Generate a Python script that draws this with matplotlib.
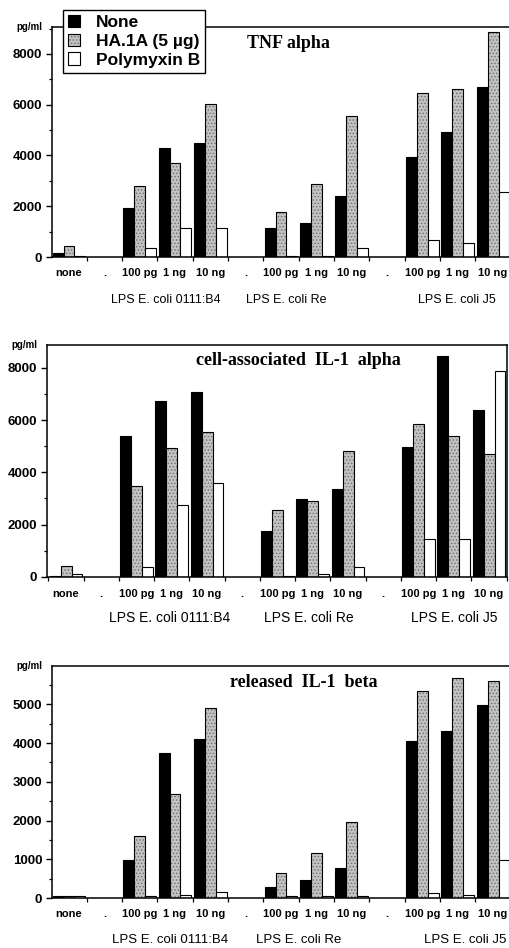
import matplotlib
matplotlib.use("Agg")
import matplotlib.pyplot as plt
from matplotlib.patches import Patch
from matplotlib.ticker import MultipleLocator, FixedLocator

plt.rcParams["font.family"] = ["Liberation Sans", "DejaVu Sans"]
plt.rcParams["hatch.linewidth"] = 0.6

# x slots; "." marks an empty separator slot
slots = ["none", ".", "100 pg", "1 ng", "10 ng", ".", "100 pg", "1 ng", "10 ng",
         ".", "100 pg", "1 ng", "10 ng"]
lps_groups = ["LPS E. coli 0111:B4", "LPS E. coli Re", "LPS E. coli J5"]
series = ["None", "HA.1A (5 \u00b5g)", "Polymyxin B"]

tnf_none = [150, 1940, 4310, 4480, 1130, 1350, 2400, 3950, 4910, 6710]
tnf_ha = [450, 2810, 3720, 6020, 1790, 2880, 5570, 6450, 6620, 8880]
tnf_poly = [20, 340, 1150, 1150, 20, 20, 340, 670, 540, 2570]

il1a_none = [20, 5390, 6730, 7075, 1760, 2980, 3365, 4950, 8450, 6390]
il1a_ha = [400, 3480, 4930, 5545, 2550, 2910, 4820, 5850, 5400, 4690]
il1a_poly = [120, 380, 2740, 3610, 40, 130, 380, 1450, 1450, 7880]

il1b_none = [40, 990, 3740, 4100, 275, 455, 773, 4040, 4310, 4980]
il1b_ha = [60, 1590, 2680, 4915, 645, 1160, 1950, 5330, 5670, 5600]
il1b_poly = [40, 60, 80, 150, 40, 40, 40, 130, 70, 990]

GRAY = "#c2c2c2"
DOTS = "#6e6e6e"

fig = plt.figure(figsize=(5.10, 9.48), dpi=100)

panels = [
    # title, values, rect, xlim, ytop, major, minor, title pos,
    # group label x / y / size, tick pad
    ("TNF alpha", (tnf_none, tnf_ha, tnf_poly),
     [0.102, 0.7289, 0.898, 0.2426], (-0.48, 12.48), 9060, 2000, 1000,
     (0.517, 0.93), (2.75, 6.14, 10.98), -0.187, 9, 8),
    ("cell-associated  IL-1  alpha", (il1a_none, il1a_ha, il1a_poly),
     [0.0922, 0.3914, 0.902, 0.2447], (-0.54, 12.51), 8870, 2000, 1000,
     (0.546, 0.935), (2.95, 6.9, 11.0), -0.177, 10, 8.5),
    ("released  IL-1  beta", (il1b_none, il1b_ha, il1b_poly),
     [0.102, 0.0527, 0.898, 0.2447], (-0.48, 12.48), 5985, 1000, 500,
     (0.55, 0.927), (2.85, 6.5, 11.2), -0.181, 9.5, 8),
]

pos = [i for i, s in enumerate(slots) if s != "."]
w = 0.31

for (title, (v_none, v_ha, v_poly), rect, xlim, ytop, major, minor, tpos,
     gx, gy, gsize, pad) in panels:
    ax = fig.add_axes(rect)
    ax.bar([p - w for p in pos], v_none, width=w, color="black",
           edgecolor="black", linewidth=0.8)
    ax.bar(pos, v_ha, width=w, color=GRAY, edgecolor=DOTS, hatch=".....",
           linewidth=0)
    ax.bar(pos, v_ha, width=w, fill=False, edgecolor="black", linewidth=0.8)
    ax.bar([p + w for p in pos], v_poly, width=w, color="white",
           edgecolor="black", linewidth=0.8)

    ax.set_xlim(*xlim)
    for sp in ax.spines.values():
        sp.set_linewidth(1.1)

    ax.yaxis.set_major_locator(MultipleLocator(major))
    ax.yaxis.set_minor_locator(MultipleLocator(minor))
    ax.set_ylim(0, ytop)
    ax.tick_params(axis="y", which="major", length=4, width=1.0, pad=3,
                   labelsize=9.5)
    ax.tick_params(axis="y", which="minor", length=2.5, width=0.9)
    for lab in ax.get_yticklabels():
        lab.set_fontweight("bold")

    ax.set_xticks(range(len(slots)))
    ax.set_xticklabels(slots, fontsize=8, fontweight="bold")
    ax.xaxis.set_minor_locator(FixedLocator([k + 0.5 for k in range(-1, 13)]))
    ax.tick_params(axis="x", which="major", length=0, pad=pad)
    ax.tick_params(axis="x", which="minor", length=3, width=0.9)

    for x, g in zip(gx, lps_groups):
        ax.text(x, gy, g, transform=ax.get_xaxis_transform(),
                ha="center", va="center", fontsize=gsize)

    ax.text(tpos[0], tpos[1], title, transform=ax.transAxes, ha="center",
            va="center", fontsize=13, fontweight="bold",
            family=["Liberation Serif", "DejaVu Serif"])

    ax.text(-0.02, 1.0, "pg/ml", transform=ax.transAxes, ha="right",
            va="center", fontsize=7, fontweight="bold")

handles = [
    Patch(facecolor="black", edgecolor="black", linewidth=0.8),
    (Patch(facecolor=GRAY, edgecolor=DOTS, hatch=".....", linewidth=0),
     Patch(fill=False, edgecolor="black", linewidth=0.8)),
    Patch(facecolor="white", edgecolor="black", linewidth=0.8),
]
leg = fig.legend(handles, series, loc="upper left",
                 bbox_to_anchor=(63 / 510, 1 - 10 / 948),
                 prop={"weight": "bold", "size": 12.5},
                 handlelength=0.7, handleheight=0.7, handletextpad=0.9,
                 labelspacing=0.2, borderpad=0.3, borderaxespad=0,
                 fancybox=False, framealpha=1, edgecolor="black")
leg.get_frame().set_linewidth(1.0)

fig.savefig("out.png", dpi=100)
